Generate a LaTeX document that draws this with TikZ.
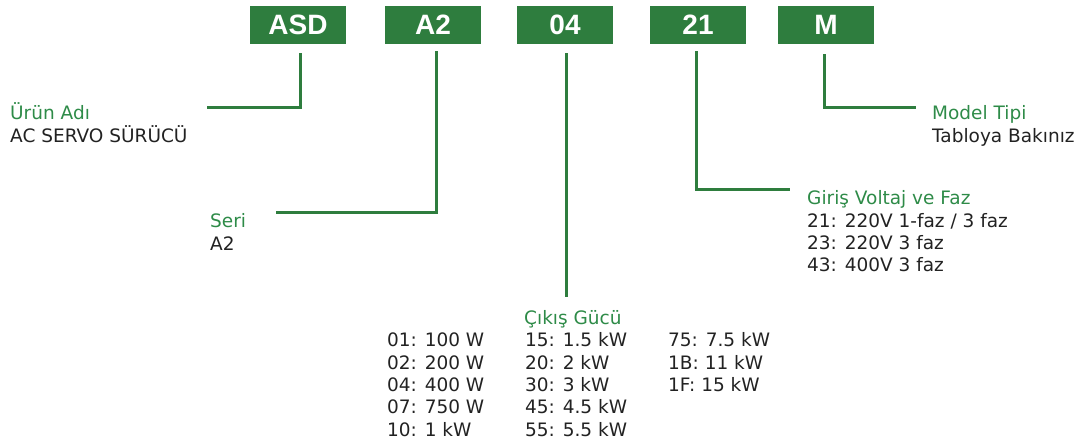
\documentclass[tikz,border=0pt]{standalone}
\usepackage{fontspec}
\setmainfont{DejaVu Sans}
\newfontfamily\boxfont{Liberation Sans}
\usetikzlibrary{calc}
\definecolor{boxgreen}{RGB}{46,125,62}
\definecolor{labelgreen}{RGB}{46,139,72}
\definecolor{txtgray}{RGB}{34,34,34}
\tikzset{
  codebox/.style={fill=boxgreen, text=white, minimum width=96pt, minimum height=38pt,
    inner sep=0pt, font=\boxfont\bfseries\fontsize{28}{30}\selectfont},
  conn/.style={draw=boxgreen, line width=3pt},
  ttl/.style={anchor=base west, inner sep=0pt, text=labelgreen, font=\fontsize{18.5}{22}\selectfont},
  val/.style={anchor=base west, inner sep=0pt, text=txtgray, font=\fontsize{18.5}{22}\selectfont},
}
\begin{document}
\begin{tikzpicture}[x=1pt,y=-1pt]
\useasboundingbox (0,0) rectangle (1080,446);
% code boxes
\node[codebox] (asd) at (298,25) {ASD};
\node[codebox] (a2)  at (433,25) {A2};
\node[codebox] (p04) at (565,25) {04};
\node[codebox] (p21) at (698,25) {21};
\node[codebox] (m)   at (826,25) {M};
% line end points
\coordinate (asdend) at (207,108);
\coordinate (a2end)  at (276,213);
\coordinate (p04end) at (566,297);
\coordinate (p21end) at (790,190);
\coordinate (mend)   at (916,108);
% connectors
\draw[conn] ($(asd.south)+(2,9)$) |- (asdend);
\draw[conn] ($(a2.south)+(3,7)$) |- (a2end);
\draw[conn] ($(p04.south)+(1,9)$) -- (p04end);
\draw[conn] ($(p21.south)+(-2,7)$) |- (p21end);
\draw[conn] ($(m.south)+(-2,10)$) |- (mend);
% labels
\node[ttl] (urun) at (10,120) {Ürün Adı};
\node[val] (urunv) at (10,143) {AC SERVO SÜRÜCÜ};
\node[ttl] (seri) at (210,228) {Seri};
\node[val] (seriv) at (210,250.5) {A2};
\node[ttl] (model) at (932,120) {Model Tipi};
\node[val] (modelv) at (932,143) {Tabloya Bakınız};
\node[ttl] (giris) at (807,205) {Giriş Voltaj ve Faz};
\node[val] (g1) at (807,227.5) {21: 220V 1-faz / 3 faz};
\node[val] (g2) at (807,249.8) {23: 220V 3 faz};
\node[val] (g3) at (807,272) {43: 400V 3 faz};
\node[ttl] (cikis) at (524,325) {Çıkış Gücü};
\node[val] (c11) at (387,347) {01: 100 W};
\node[val] (c12) at (387,369.3) {02: 200 W};
\node[val] (c13) at (387,391.6) {04: 400 W};
\node[val] (c14) at (387,413.9) {07: 750 W};
\node[val] (c15) at (387,436.2) {10: 1 kW};
\node[val] (c21) at (525,347) {15: 1.5 kW};
\node[val] (c22) at (525,369.3) {20: 2 kW};
\node[val] (c23) at (525,391.6) {30: 3 kW};
\node[val] (c24) at (525,413.9) {45: 4.5 kW};
\node[val] (c25) at (525,436.2) {55: 5.5 kW};
\node[val] (c31) at (668,347) {75: 7.5 kW};
\node[val] (c32) at (668,369.3) {1B: 11 kW};
\node[val] (c33) at (668,391.6) {1F: 15 kW};
\end{tikzpicture}
\end{document}
